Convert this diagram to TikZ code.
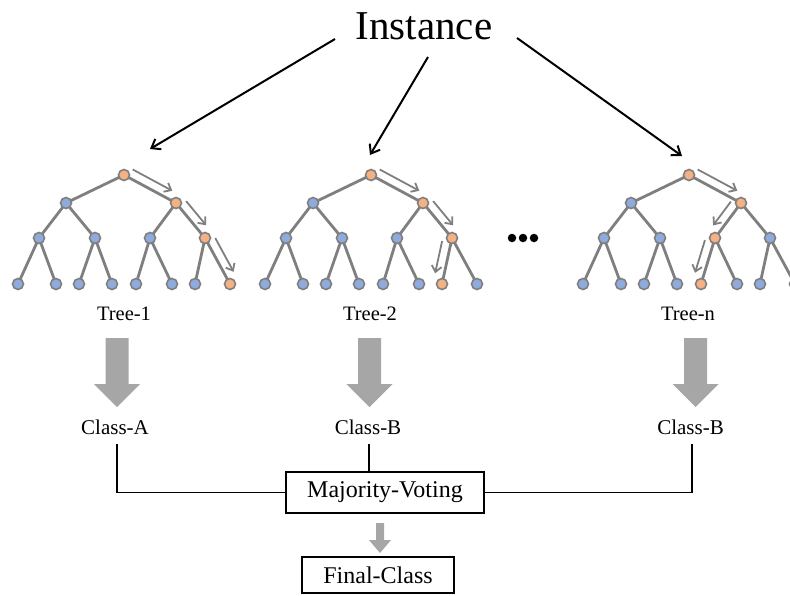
\documentclass[tikz,border=0pt]{standalone}
\usepackage{fontspec}
\setmainfont{Liberation Serif}
\usetikzlibrary{calc,arrows.meta,backgrounds}

\definecolor{edgegray}{RGB}{127,127,127}
\definecolor{nodeblue}{RGB}{143,170,220}
\definecolor{nodeorange}{RGB}{244,177,131}
\definecolor{blockgray}{RGB}{166,166,166}

\tikzset{
  tn/.style={circle, draw=edgegray, line width=1.6pt, minimum size=11pt, inner sep=0pt},
  tedge/.style={draw=edgegray, line width=2.8pt},
  walk/.style={draw=edgegray, line width=1.8pt, -{Straight Barb[length=6pt,width=10pt]}},
  feed/.style={line width=2pt, -{Straight Barb[length=8pt,width=12pt]}},
  treelbl/.style={anchor=base, inner sep=0pt, font=\fontsize{20.5}{24}\selectfont},
  classlbl/.style={anchor=base, inner sep=0pt, font=\fontsize{21}{25}\selectfont},
  box/.style={draw, line width=1.6pt, inner sep=0pt, font=\fontsize{24}{28}\selectfont},
  conn/.style={line width=1.6pt},
  dotnode/.style={circle, fill=black, inner sep=0pt, minimum size=8.5pt}
}

% one binary tree: #1 name, #2 root x, #3/#4/#5 index of the visited node on levels 1/2/3
\newcommand\rftree[5]{%
  \node[tn, fill=nodeorange] (#1-0) at (#2,175) {};
  \foreach \i/\dx in {1/-58,2/52}{%
    \ifnum\i=#3\relax\def\fc{nodeorange}\else\def\fc{nodeblue}\fi
    \node[tn, fill=\fc] (#1-1-\i) at ({#2+(\dx)},203) {};}
  \foreach \i/\dx in {1/-85,2/-29,3/26,4/81}{%
    \ifnum\i=#4\relax\def\fc{nodeorange}\else\def\fc{nodeblue}\fi
    \node[tn, fill=\fc] (#1-2-\i) at ({#2+(\dx)},238) {};}
  \foreach \i/\dx in {1/-106,2/-68,3/-45,4/-12,5/12,6/48,7/71,8/106}{%
    \ifnum\i=#5\relax\def\fc{nodeorange}\else\def\fc{nodeblue}\fi
    \node[tn, fill=\fc] (#1-3-\i) at ({#2+(\dx)},284) {};}
  \begin{pgfonlayer}{background}
    \foreach \i in {1,2}{\draw[tedge] (#1-0.center) -- (#1-1-\i.center);}
    \foreach \i/\j in {1/1,1/2,2/3,2/4}{\draw[tedge] (#1-1-\i.center) -- (#1-2-\j.center);}
    \foreach \i/\j in {1/1,1/2,2/3,2/4,3/5,3/6,4/7,4/8}{\draw[tedge] (#1-2-\i.center) -- (#1-3-\j.center);}
  \end{pgfonlayer}
}

% thin arrow running beside a tree edge: #1 from, #2 to, #3/#4 side angles
\newcommand\walk[4]{%
  \draw[walk] ($(#1)!5pt!(#2)!9pt!#3:(#2)$) -- ($(#2)!9pt!(#1)!9pt!#4:(#1)$);}

% filled block arrow: #1 centre x, #2 top, #3 tip, #4 half shaft, #5 half head, #6 head length
\newcommand\blockarrow[6]{%
  \fill[blockgray] ({#1-#4},#2) -- ({#1+#4},#2) -- ({#1+#4},{#3-#6}) -- ({#1+#5},{#3-#6})
    -- (#1,#3) -- ({#1-#5},{#3-#6}) -- ({#1-#4},{#3-#6}) -- cycle;}

\begin{document}
\begin{tikzpicture}[x=1pt, y=-1pt]
\useasboundingbox (0,0) rectangle (790,595);

% input
\node[anchor=base, inner sep=0pt, font=\fontsize{41}{45}\selectfont] (inst) at (424,39) {Instance};
\coordinate (s1) at (335,39);  \coordinate (e1) at (150,149);
\coordinate (s2) at (428,57);  \coordinate (e2) at (370,155);
\coordinate (s3) at (517,38);  \coordinate (e3) at (682,156);
\draw[feed] (s1) -- (e1);
\draw[feed] (s2) -- (e2);
\draw[feed] (s3) -- (e3);

% the forest
\rftree{t1}{124}{2}{4}{8}
\rftree{t2}{371}{2}{4}{7}
\rftree{tn}{689}{2}{3}{5}

% decision paths
\walk{t1-0}{t1-1-2}{90}{-90}
\walk{t1-1-2}{t1-2-4}{90}{-90}
\walk{t1-2-4}{t1-3-8}{90}{-90}
\walk{t2-0}{t2-1-2}{90}{-90}
\walk{t2-1-2}{t2-2-4}{90}{-90}
\walk{t2-2-4}{t2-3-7}{-90}{90}
\walk{tn-0}{tn-1-2}{90}{-90}
\walk{tn-1-2}{tn-2-3}{-90}{90}
\walk{tn-2-3}{tn-3-5}{-90}{90}

\foreach \i/\x in {1/512,2/523,3/534}{\node[dotnode] (dot\i) at (\x,238) {};}

% tree names
\node[treelbl] (l1) at (124,320) {Tree-1};
\node[treelbl] (l2) at (370,320) {Tree-2};
\node[treelbl] (ln) at (688,320) {Tree-n};

% predictions
\blockarrow{117}{338}{407}{11.5}{23}{23}
\blockarrow{369.5}{338}{407}{11.5}{23}{23}
\blockarrow{695.5}{338}{407}{11.5}{23}{23}

\node[classlbl] (ca) at (115,434) {Class-A};
\node[classlbl] (cb) at (368,434) {Class-B};
\node[classlbl] (cn) at (690.5,434) {Class-B};

% voting
\node[box, minimum width=198pt, minimum height=41pt] (mv) at (385,492.5) {Majority-Voting};
\node[box, minimum width=152pt, minimum height=36pt] (fc) at (378,575) {Final-Class};

\draw[conn] ([xshift=2pt,yshift=-10pt]ca.base) |- (mv.west);
\draw[conn] ([xshift=1pt,yshift=-10pt]cb.base) -- ([xshift=1pt]cb.base |- mv.north);
\draw[conn] ([xshift=1.5pt,yshift=-10pt]cn.base) |- (mv.east);

\blockarrow{380}{523}{553}{4}{11}{13}
\end{tikzpicture}
\end{document}
